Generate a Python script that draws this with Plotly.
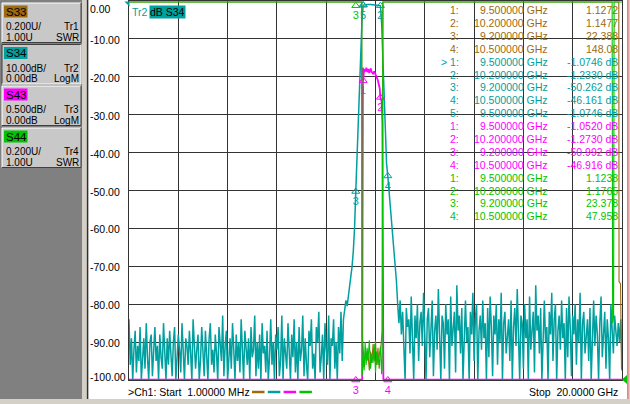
# -*- coding: utf-8 -*-
"""
Network analyzer screen: band-pass filter, S34 / S43 / S33 / S44, 1 MHz - 20 GHz
"""

import numpy as np
import plotly.graph_objects as go

# %% Data

# marker frequencies (GHz) and marker readouts of every trace
mk_freq = [9.5, 10.2, 9.2, 10.5]
s34_mk_freq = [9.5, 10.2, 9.2, 10.5, 9.5]
s33_mk = [1.1272, 1.1477, 22.388, 148.08]
s34_mk = [-1.0746, -1.2330, -50.262, -46.161, -1.0746]
s43_mk = [-1.0520, -1.2730, -50.992, -46.916]
s44_mk = [1.1238, 1.1765, 23.378, 47.958]

# S34 noise floor (dB) below and above the pass band, one sweep point every 50 MHz
s34_noise_lo = [
    -84, -96, -89, -100, -92, -87, -98, -91, -95, -86, -100, -93,
    -89, -97, -85, -94, -100, -90, -88, -99, -93, -86, -95, -91,
    -100, -88, -94, -97, -85, -92, -100, -89, -96, -87, -93, -99,
    -90, -86, -100, -95, -88, -92, -98, -85, -94, -100, -89, -91,
    -96, -87, -93, -100, -84, -90, -97, -92, -88, -100, -95, -86,
    -91, -99, -87, -94, -100, -89, -85, -96, -92, -98, -88, -93,
    -100, -86, -90, -95, -83, -99, -91, -87, -100, -94, -89, -97,
    -85, -92, -100, -88, -95, -90, -98, -84, -93, -100, -87, -91,
    -96, -89, -100, -86, -94, -92, -83, -99, -90, -97, -88, -100,
    -85, -93, -91, -98, -87, -100, -94, -84, -96, -90, -100, -88,
    -92, -86, -99, -95, -83, -100, -89, -93, -97, -85, -91, -100,
    -88, -94, -84, -98, -90, -100, -86, -95, -92, -83, -99, -89,
    -96, -100, -87, -91, -84, -97, -93, -100, -86, -90, -82, -98,
    -94, -88, -100, -85, -92, -96, -83, -100, -89, -91, -84, -97,
    -90, -100, -86, -93, -82, -95, -84, -81, -79]
s34_noise_hi = [
    -80, -85, -79, -88, -82, -90, -100, -81, -86, -84, -93, -78,
    -87, -100, -83, -89, -80, -95, -85, -82, -91, -77, -88, -100,
    -84, -81, -94, -86, -79, -99, -87, -83, -92, -76, -89, -100,
    -83, -85, -97, -80, -88, -84, -100, -78, -91, -86, -82, -98,
    -75, -87, -83, -93, -81, -100, -85, -79, -90, -86, -100, -82,
    -88, -77, -95, -84, -80, -100, -87, -83, -92, -79, -89, -85,
    -100, -81, -94, -78, -86, -99, -83, -88, -80, -96, -84, -90,
    -77, -100, -85, -82, -93, -87, -84, -95, -79, -100, -86, -81,
    -91, -76, -88, -100, -83, -85, -97, -80, -89, -84, -100, -78,
    -92, -86, -82, -98, -75, -87, -83, -93, -81, -100, -85, -79,
    -90, -86, -100, -82, -88, -77, -95, -84, -80, -100, -87, -83,
    -92, -79, -89, -85, -100, -81, -94, -78, -86, -99, -83, -88,
    -80, -96, -84, -90, -77, -100, -85, -82, -93, -87, -84, -95,
    -81, -100, -86, -79, -91, -83, -88, -100, -85, -78, -94, -87,
    -82, -97, -84, -89, -100, -80, -86, -93, -83, -88, -91, -85,
    -90, -84, -95]
noise_lo_start, noise_hi_start, noise_step = 0.0, 10.9, 0.05

# S34 over the skirts and the pass band
band_freq = [8.85, 8.9, 8.95, 9.0, 9.05, 9.1, 9.15, 9.2, 9.25, 9.3, 9.35, 9.4,
             9.45, 9.5, 9.6, 9.7, 9.8, 9.9, 10.0, 10.1, 10.2, 10.25, 10.3,
             10.35, 10.4, 10.45, 10.5, 10.55, 10.6, 10.65, 10.7, 10.75, 10.8,
             10.85]
s34_band = [-80.5, -78, -76, -73, -70, -66, -60, -50.3, -41, -32, -23, -14,
            -5.5, -1.07, -0.95, -0.9, -0.92, -0.95, -1.0, -1.1, -1.23, -6, -16,
            -25, -35, -43, -46.2, -50, -54, -58, -62, -66, -69.5,
            -74]

# S43 (dB)
s43_freq = [0.001, 9.2, 9.46, 9.485, 9.49, 9.5, 9.52, 9.55, 9.6, 9.63,
            9.67, 9.7, 9.75, 9.8, 9.85, 9.9, 9.95, 10.0, 10.05, 10.1,
            10.13, 10.17, 10.2, 10.25, 10.28, 10.32, 10.5, 20.0]
s43 = [-62.0, -50.992, -9.0, -1.62, -0.88, -1.052, -0.97, -0.9, -0.93, -0.88,
       -0.94, -0.9, -0.95, -0.89, -0.94, -0.96, -0.93, -0.97, -1.0, -1.05,
       -1.1, -1.15, -1.273, -1.33, -1.62, -7.0, -46.916, -70.0]

# S33 and S44 as SWR
s33_freq = [0.001, 9.2, 9.44, 9.46, 9.5, 9.55, 9.6, 9.65, 9.7, 9.75,
            9.8, 9.85, 9.9, 9.95, 10.0, 10.05, 10.1, 10.15, 10.2, 10.27,
            10.3, 10.5, 19.87, 19.88, 19.94, 19.98, 20.0]
s33 = [38.5, 22.388, 4.2, 1.24, 1.1272, 1.07, 1.16, 1.1, 1.13, 1.05,
       1.15, 1.09, 1.19, 1.1, 1.21, 1.08, 1.17, 1.06, 1.1477, 1.26,
       3.9, 148.08, 36.0, 1.52, 1.51, 1.06, 1.05]
s44_freq = [0.001, 9.2, 9.44, 9.46, 9.48, 9.5, 9.54, 9.58, 9.62, 9.66,
            9.7, 9.75, 9.8, 9.85, 9.9, 9.95, 10.0, 10.05, 10.1, 10.15,
            10.2, 10.25, 10.27, 10.3, 10.5, 19.6, 19.62, 19.66, 19.68, 20.0]
s44 = [26.0, 23.378, 5.0, 1.02, 1.09, 1.1238, 1.05, 1.2, 1.08, 1.17,
       1.11, 1.21, 1.06, 1.14, 1.09, 1.19, 1.04, 1.15, 1.08, 1.12,
       1.1765, 1.03, 1.06, 4.5, 47.958, 30.0, 1.3, 1.33, 28.0, 31.0]

ytick_vals = [0, -10, -20, -30, -40, -50, -60, -70, -80, -90, -100]

# %% Styles and screen geometry (pixels)

C33, C34, C43, C44 = '#9C6A10', '#00A0A0', '#FF00FF', '#00C400'
GRID = '#333333'
FONT = 'Liberation Sans'

W, H = 630, 404
L, R, T, B = 129, 8, 1, 24
PW, PH = W - L - R, H - T - B


def px(x):
    return (x - L) / PW


def py(y):
    return (H - B - y) / PH


def rect(x0, y0, x1, y1, fill):
    return dict(type='rect', xref='paper', yref='paper', x0=px(x0), x1=px(x1),
                y0=py(y1), y1=py(y0), fillcolor=fill, line=dict(width=0),
                layer='above')


def seg(x0, y0, x1, y1, color, width=1):
    return dict(type='line', xref='paper', yref='paper', x0=px(x0), x1=px(x1),
                y0=py(y0), y1=py(y1), line=dict(color=color, width=width),
                layer='above')


def label(x, y, text, color='black', size=10.5, anchor='left', **kw):
    return dict(xref='paper', yref='paper', x=px(x), y=py(y), text=text,
                showarrow=False, xanchor=anchor, yanchor='middle', borderpad=0,
                font=dict(family=FONT, size=size, color=color), **kw)


# %% Traces

f_lo = noise_lo_start + np.arange(len(s34_noise_lo)) * noise_step
f_hi = noise_hi_start + np.arange(len(s34_noise_hi)) * noise_step
s34_freq = np.concatenate([f_lo, band_freq, f_hi])
s34 = np.concatenate([s34_noise_lo, s34_band, s34_noise_hi])

# the analyzer pins off-scale points to the edge of the graticule
swr_top, s43_bottom = 3.0, -5.0
y2_range, y3_range = [-5.005, 0], [1.0, 3.005]

fig = go.Figure()
fig.add_trace(go.Scatter(x=s33_freq, y=np.clip(s33, 1.0, swr_top), mode='lines',
                         line=dict(color=C33, width=1.1), yaxis='y3'))
fig.add_trace(go.Scatter(x=s34_freq, y=np.clip(s34, -100, 0), mode='lines',
                         line=dict(color=C34, width=1.5)))
fig.add_trace(go.Scatter(x=s43_freq, y=np.clip(s43, s43_bottom, 0), mode='lines',
                         line=dict(color=C43, width=1.8), yaxis='y2'))
fig.add_trace(go.Scatter(x=s44_freq, y=np.clip(s44, 1.0, swr_top), mode='lines',
                         line=dict(color=C44, width=1.1), yaxis='y3'))


def marker_trace(freqs, vals, color, yaxis, labels):
    return go.Scatter(x=freqs, y=vals, mode='markers+text', yaxis=yaxis,
                      marker=dict(symbol='triangle-up-open', size=7, color=color,
                                  line=dict(width=1, color=color)),
                      text=labels, textposition='bottom center', cliponaxis=False,
                      textfont=dict(family=FONT, size=11, color=color))


fig.add_trace(marker_trace(s34_mk_freq, s34_mk, C34, 'y', ['', '2', '3', '4', '5']))
fig.add_trace(marker_trace(mk_freq, np.clip(s43_mk, y2_range[0], 0), C43, 'y2',
                           ['1', '2', '3', '4']))
fig.add_trace(marker_trace([mk_freq[2]], [min(s44_mk[2], 2.98)], C44, 'y3', ['3']))

# %% Layout

axis = dict(showgrid=True, gridcolor=GRID, gridwidth=1, showline=True, mirror=True,
            linecolor=GRID, linewidth=1, zeroline=False, showticklabels=False,
            ticks='', fixedrange=True)
fig.update_layout(
    width=W, height=H, margin=dict(l=L, r=R, t=T, b=B),
    paper_bgcolor='white', plot_bgcolor='white', showlegend=False,
    hovermode=False,
    xaxis=dict(range=[0, 20], dtick=2, **axis),
    yaxis=dict(range=[-100, 0], dtick=10, **axis),
    yaxis2=dict(range=y2_range, overlaying='y', visible=False, fixedrange=True),
    yaxis3=dict(range=y3_range, overlaying='y', visible=False, fixedrange=True),
)

shapes = [
    rect(0, 0, 82, 399, '#808080'),
    rect(82, 0, 87, 399, '#D4D0C8'),
    seg(87.6, 0, 87.6, 399, '#303030', 1.5),
    rect(0, 399, 630, 404, '#D4D0C8'),
    seg(628, 0, 628, 399, '#E00000', 1),
    rect(628.6, 0, 630, 404, '#D4D0C8'),
    # reference level arrows
    dict(type='path', xref='paper', yref='paper', fillcolor=C34, line=dict(width=0),
         path=f'M {px(124.3)} {py(1.5)} L {px(129.5)} {py(1.5)} L {px(129.5)} {py(6.5)} Z'),
    dict(type='path', xref='paper', yref='paper', fillcolor=C44, line=dict(width=0),
         path=f'M {px(621.8)} {py(379.5)} L {px(627)} {py(375)} L {px(627)} {py(384)} Z'),
]
ann = []

# trace buttons on the left
buttons = [
    ('S33', C33, '0.200U/', 'Tr1', '1.00U', 'SWR', 3.0, False),
    ('S34', C34, '10.00dB/', 'Tr2', '0.00dB', 'LogM', 44.5, True),
    ('S43', C43, '0.500dB/', 'Tr3', '0.00dB', 'LogM', 86.0, False),
    ('S44', C44, '0.200U/', 'Tr4', '1.00U', 'SWR', 128.0, False),
]
for name, col, scale, tr, ref, fmt, top, pressed in buttons:
    bot = top + 39.5
    hi, lo = ('#404040', 'white') if pressed else ('white', '#404040')
    shapes += [rect(2, top, 81, bot, '#C8C8C8'),
               seg(2, top, 81, top, hi), seg(2, top, 2, bot, hi),
               seg(2, bot, 81, bot, lo), seg(81, top, 81, bot, lo),
               rect(4, top + 2.5, 27.5, top + 14.5, col)]
    ann += [label(4.5, top + 8.8, name, size=11.5),
            label(4.5, top + 23.5, scale, size=10),
            label(79.5, top + 23.5, tr, size=10, anchor='right'),
            label(4.5, top + 34, ref, size=10),
            label(79.5, top + 34, fmt, size=10, anchor='right')]

# y scale of the active trace
for v in ytick_vals:
    shift = -7.5 if v == 0 else (3.3 if v == -100 else -1)
    ann.append(dict(xref='paper', yref='y', x=px(89), y=v, text=f'{v:.2f}',
                    showarrow=False, xanchor='left', yanchor='middle', yshift=shift,
                    borderpad=0, font=dict(family=FONT, size=10.5, color='black')))

# active trace title
ann += [label(131, 12, 'Tr2', C34),
        label(148.5, 11.7, 'dB S34', 'black', bgcolor=C34)]

# marker readout table
rows = []
for k, (f, v) in enumerate(zip(mk_freq, s33_mk)):
    rows.append((C33, f'{k + 1}:', f, f'{v:#.5g}'))
for k, (f, v) in enumerate(zip(s34_mk_freq, s34_mk)):
    rows.append((C34, ('> ' if k == 0 else '') + f'{k + 1}:', f, f'{v:#.5g} dB'))
for k, (f, v) in enumerate(zip(mk_freq, s43_mk)):
    rows.append((C43, f'{k + 1}:', f, f'{v:#.5g} dB'))
for k, (f, v) in enumerate(zip(mk_freq, s44_mk)):
    rows.append((C44, f'{k + 1}:', f, f'{v:#.5g}'))
for i, (col, num, f, val) in enumerate(rows):
    y = 10 + 12.9 * i
    ann += [label(460, y, num, col, anchor='right'),
            label(549, y, f'{f:.6f} GHz', col, anchor='right'),
            label(619, y, val, col, anchor='right')]

# channel footer
ann += [label(127, 392, '>Ch1: Start\u00a0\u00a01.00000 MHz'),
        label(619, 392, 'Stop\u00a0\u00a020.0000 GHz', anchor='right')]
for k, col in enumerate([C33, C34, C43, C44]):
    x0 = 252 + 15.8 * k
    shapes.append(seg(x0, 392, x0 + 12.5, 392, col, 2.5))

fig.update_layout(shapes=shapes, annotations=ann)
# the page is photographed from its top-left corner: drop the default body margin
fig.write_html("out.html", config={'displayModeBar': False, 'staticPlot': True},
               post_script="document.body.style.margin = '0';")
